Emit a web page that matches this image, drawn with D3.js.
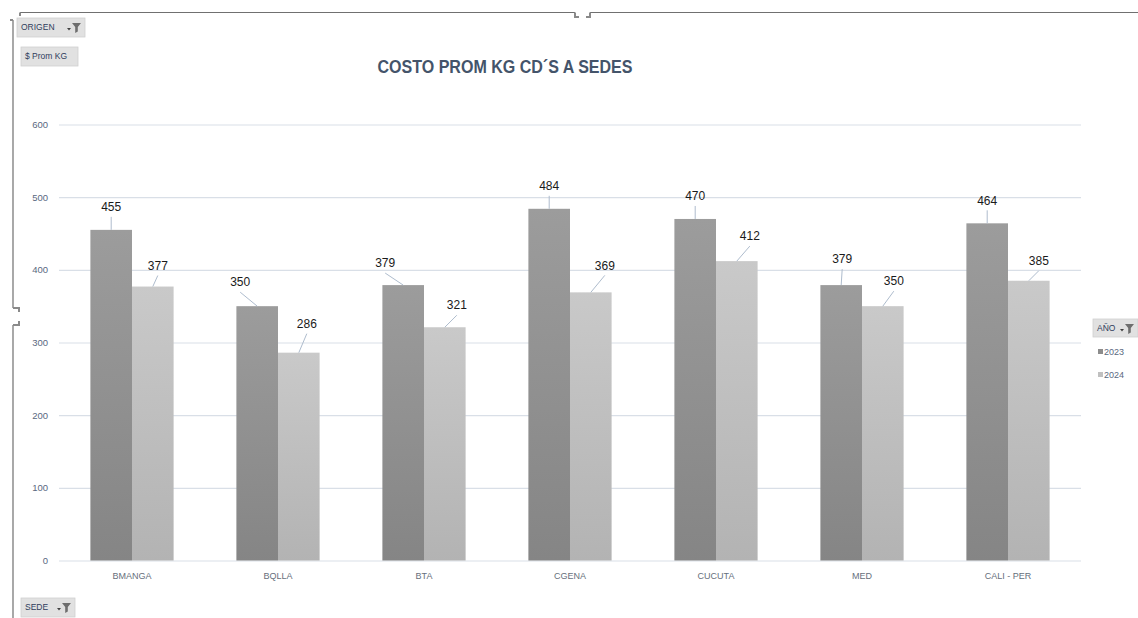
<!DOCTYPE html>
<html>
<head>
<meta charset="utf-8">
<script src="https://cdn.jsdelivr.net/npm/d3@7"></script>
<style>
  html, body { margin: 0; padding: 0; background: #ffffff; }
  svg { display: block; font-family: "Liberation Sans", Arial, sans-serif; }
</style>
</head>
<body>
<svg id="chart" width="1138" height="618"></svg>
<script>
// ---- data ----
const categories = ["BMANGA", "BQLLA", "BTA", "CGENA", "CUCUTA", "MED", "CALI - PER"];
const years = ["2023", "2024"];
const values2023 = [455, 350, 379, 484, 470, 379, 464];
const values2024 = [377, 286, 321, 369, 412, 350, 385];
const yTicks = [0, 100, 200, 300, 400, 500, 600];
const chartTitle = "COSTO PROM KG CD´S A SEDES";
// label offsets (layout only): [dx, dy] of the label from the top-centre of its bar
const labelOffsets2023 = [[0, -23], [-17, -24], [-18, -22], [0, -23], [0, -23], [1, -26], [0, -23]];
const labelOffsets2024 = [[5, -21], [8, -29], [12, -22], [14, -27], [13, -25], [11, -25], [10, -20]];

const W = 1138, H = 618;
const svg = d3.select("#chart");
const defs = svg.append("defs");

function grad(id, top, bottom) {
  const g = defs.append("linearGradient").attr("id", id)
    .attr("x1", 0).attr("y1", 0).attr("x2", 0).attr("y2", 1);
  g.append("stop").attr("offset", "0%").attr("stop-color", top);
  g.append("stop").attr("offset", "100%").attr("stop-color", bottom);
}
grad("g2023", "#9c9c9c", "#858585");
grad("g2024", "#c9c9c9", "#b3b3b3");
const fills = {"2023": "url(#g2023)", "2024": "url(#g2024)"};
const legendColors = {"2023": "#8c8c8c", "2024": "#c0c0c0"};

const plot = {left: 59, right: 1081, top: 124.5, bottom: 560.5};

const x = d3.scaleBand().domain(categories)
  .range([plot.left, plot.right]).paddingInner(0.43).paddingOuter(0.215);
const xs = d3.scaleBand().domain(years).range([0, x.bandwidth()]);
const y = d3.scaleLinear().domain([0, 600]).range([plot.bottom, plot.top]);

// ---- gridlines & y axis ----
const yAxis = d3.axisLeft(y).tickValues(yTicks).tickSize(-(plot.right - plot.left)).tickPadding(11);
const ga = svg.append("g").attr("transform", `translate(${plot.left},0)`).call(yAxis);
ga.select(".domain").remove();
ga.selectAll(".tick line").attr("stroke", "#d9dfe7").attr("stroke-width", 1.2);
ga.selectAll(".tick text").attr("fill", "#5a6880").attr("font-size", 9.5);

// ---- x axis labels ----
const xAxis = d3.axisBottom(x).tickSize(0).tickPadding(12);
const gx = svg.append("g").attr("transform", `translate(0,${plot.bottom})`).call(xAxis);
gx.select(".domain").remove();
gx.selectAll(".tick text").attr("fill", "#666f7c").attr("font-size", 9);

// ---- bars ----
const rows = categories.map((c, i) => ({
  cat: c,
  items: [
    {year: "2023", v: values2023[i], off: labelOffsets2023[i]},
    {year: "2024", v: values2024[i], off: labelOffsets2024[i]}
  ]
}));

const groups = svg.append("g").selectAll("g").data(rows).join("g")
  .attr("transform", d => `translate(${x(d.cat)},0)`);

groups.selectAll("rect").data(d => d.items).join("rect")
  .attr("x", d => xs(d.year))
  .attr("width", xs.bandwidth())
  .attr("y", d => y(d.v))
  .attr("height", d => y(0) - y(d.v))
  .attr("fill", d => fills[d.year]);

// leader lines
groups.selectAll("line.leader").data(d => d.items).join("line")
  .attr("class", "leader")
  .attr("x1", d => xs(d.year) + xs.bandwidth() / 2)
  .attr("y1", d => y(d.v))
  .attr("x2", d => xs(d.year) + xs.bandwidth() / 2 + d.off[0])
  .attr("y2", d => y(d.v) + d.off[1] + 10)
  .attr("stroke", "#aebccd").attr("stroke-width", 1);

// data labels
groups.selectAll("text.val").data(d => d.items).join("text")
  .attr("class", "val")
  .attr("x", d => xs(d.year) + xs.bandwidth() / 2 + d.off[0])
  .attr("y", d => y(d.v) + d.off[1])
  .attr("dy", "0.35em")
  .attr("text-anchor", "middle")
  .attr("font-size", 12)
  .attr("fill", "#1a1a1a")
  .text(d => d.v);

// ---- title ----
svg.append("text")
  .attr("x", 505).attr("y", 73)
  .attr("text-anchor", "middle")
  .attr("font-size", 18).attr("font-weight", "bold")
  .attr("fill", "#44546a")
  .attr("textLength", 255).attr("lengthAdjust", "spacingAndGlyphs")
  .text(chartTitle);

// ---- frame / selection handles ----
const frame = svg.append("g").attr("stroke", "#707070").attr("fill", "none").attr("stroke-width", 1.2);
frame.append("path").attr("d", `M20,12.5 H575 M590,12.5 H${W}`);
frame.append("path").attr("d", "M575,12.5 V17 H579 M590,12.5 V17 H586").attr("stroke-width", 2).attr("stroke", "#8a8a8a");
frame.append("path").attr("d", `M13,20 V308 M13,325 V${H}`);
frame.append("path").attr("d", "M13,308 H19 V312 M13,325 H19 V321").attr("stroke-width", 2).attr("stroke", "#8a8a8a");
frame.append("path").attr("d", "M10,20 H13 M20,12.5 V16").attr("stroke-width", 2).attr("stroke", "#8a8a8a");

// ---- pivot buttons ----
function funnel(g, fx, fy) {
  g.append("path").attr("d", `M${fx},${fy} h9 l-3.2,4 v4.5 l-2.6,1.5 v-6 z`).attr("fill", "#6e6e6e");
  g.append("path").attr("d", `M${fx - 5},${fy + 5} h4 l-2,2.4 z`).attr("fill", "#404040");
}
function button(bx, by, bw, bh, label, withFilter) {
  const g = svg.append("g");
  g.append("rect").attr("x", bx).attr("y", by).attr("width", bw).attr("height", bh)
    .attr("fill", "#e1e1e1").attr("stroke", "#d0d0d0").attr("stroke-width", 0.8);
  g.append("text").attr("x", bx + 4).attr("y", by + bh / 2).attr("dy", "0.35em")
    .attr("font-size", 8.5).attr("fill", "#2f3d5c").text(label);
  if (withFilter) funnel(g, bx + bw - 13, by + 5);
}
button(17, 18, 68, 19, "ORIGEN", true);
button(21, 47, 57, 19, "$ Prom KG", false);
button(21, 598, 54, 19, "SEDE", true);
button(1093, 319, 45, 18, "AÑO", true);

// ---- legend ----
const lg = svg.append("g").selectAll("g").data(years).join("g")
  .attr("transform", (d, i) => `translate(1098,${352 + i * 23})`);
lg.append("rect").attr("x", 0).attr("y", -3).attr("width", 5).attr("height", 5)
  .attr("fill", d => legendColors[d]);
lg.append("text").attr("x", 6).attr("y", 0).attr("dy", "0.35em")
  .attr("font-size", 9).attr("fill", "#5a6880").text(d => d);
</script>
</body>
</html>
